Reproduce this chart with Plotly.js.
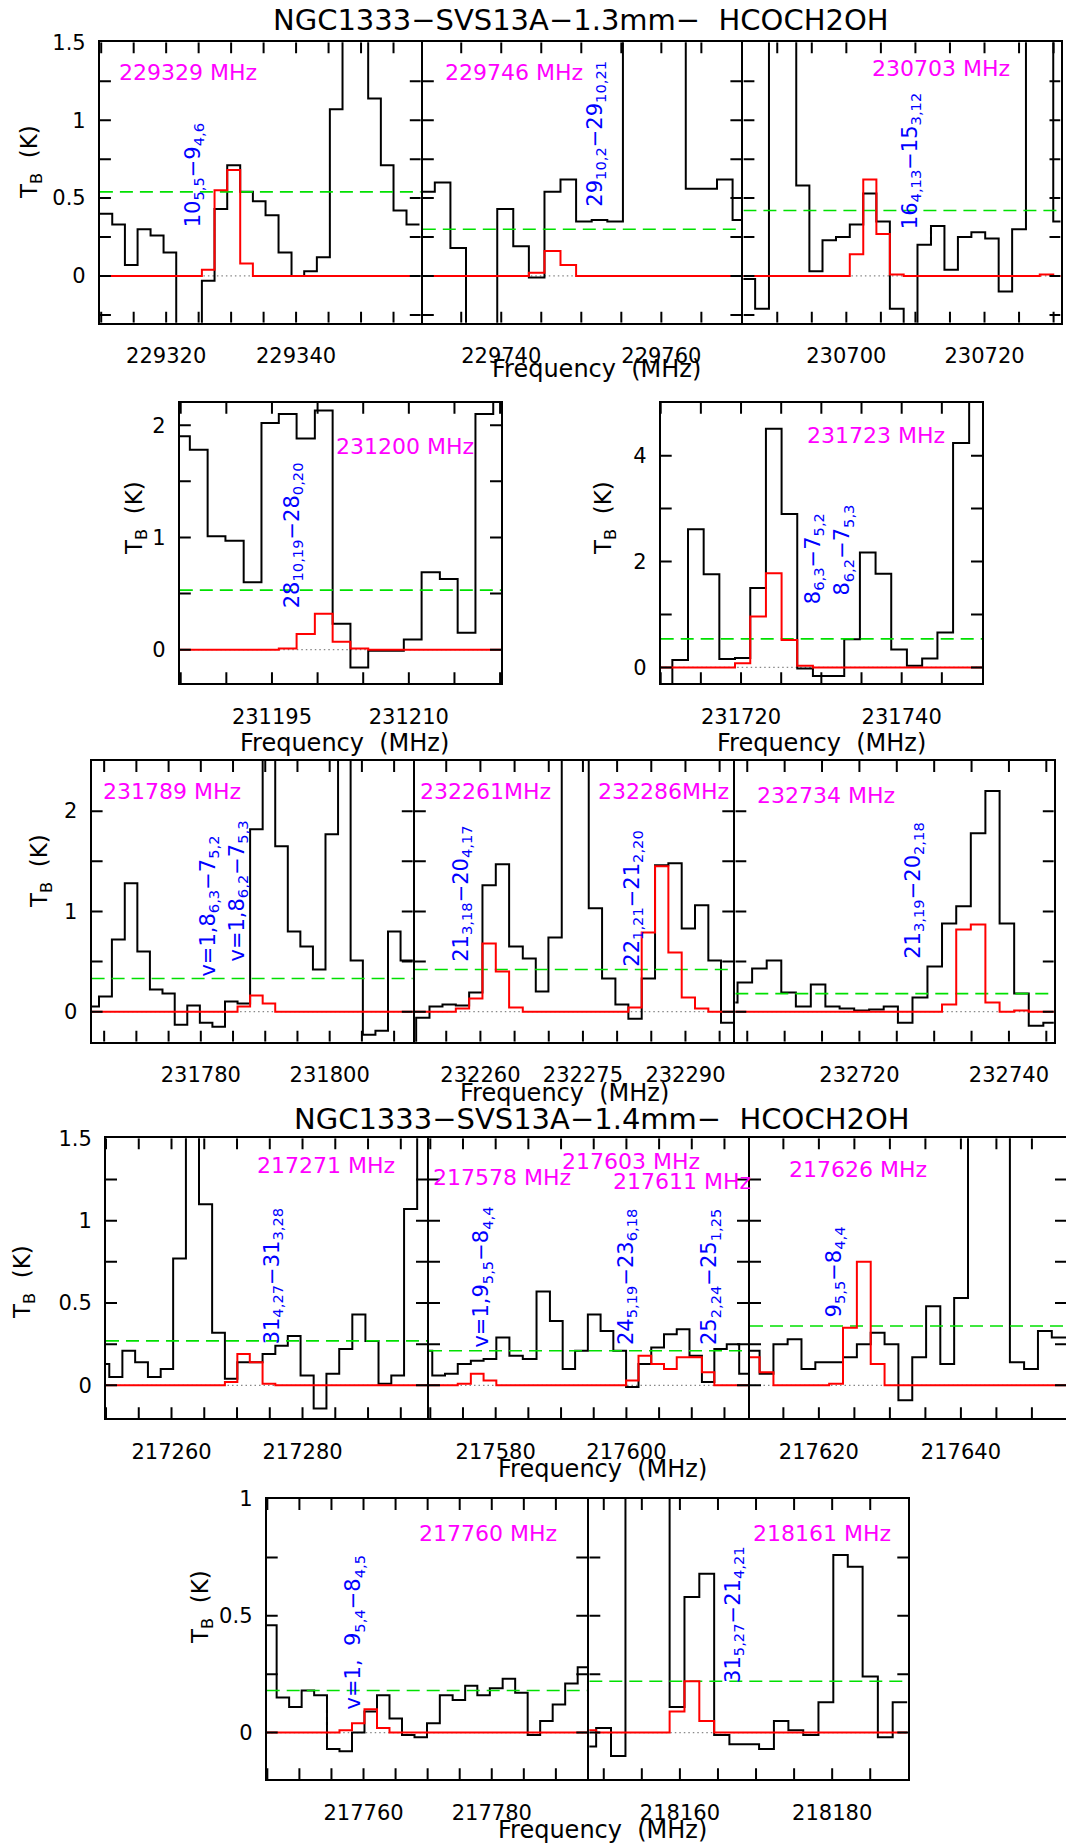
<!DOCTYPE html>
<html><head><meta charset="utf-8">
<script src="https://cdn.plot.ly/plotly-3.0.1.min.js"></script>
<style>html,body{margin:0;padding:0;background:#fff}</style>
</head><body>
<div id="chart" style="width:1066px;height:1845px"></div>
<script>
// ---------------- DATA (channel centre frequency in MHz, brightness temperature in K) ----------------
const A_freq = [229310.7,229312.7,229314.6,229316.6,229318.6,229320.6,229322.5,229324.5,229326.5,229328.4,229330.4,229332.4,229334.3,229336.3,229338.3,229340.3,229342.2,229344.2,229346.2,229348.1,229350.1,229352.1,229354.0,229356.0,229358.0];
const A_tb    = [0.40,0.33,0.07,0.30,0.26,0.15,-0.60,-0.60,-0.03,0.43,0.71,0.54,0.48,0.39,0.15,0.00,0.03,0.12,1.07,1.90,1.90,1.14,0.71,0.42,0.33];
const A_model = [0,0,0,0,0,0,0,0,0.04,0.55,0.68,0.08,0,0,0,0,0,0,0,0,0,0,0,0,0];

const B_freq = [229730.7,229732.7,229734.6,229736.6,229738.5,229740.5,229742.5,229744.4,229746.4,229748.4,229750.3,229752.3,229754.2,229756.2,229758.2,229760.1,229762.1,229764.0,229766.0,229767.9,229769.9];
const B_tb    = [0.54,0.60,0.18,-0.50,-0.50,0.43,0.19,-0.01,0.54,0.62,0.35,0.36,0.35,2.00,2.00,2.00,2.00,0.56,0.56,0.62,0.36];
const B_model = [0,0,0,0,0,0,0,0.02,0.16,0.07,0,0,0,0,0,0,0,0,0,0,0];

const C_freq = [230685.8,230687.8,230689.8,230691.8,230693.7,230695.6,230697.5,230699.5,230701.5,230703.4,230705.3,230707.3,230709.3,230711.3,230713.2,230715.2,230717.1,230719.1,230721.1,230723.0,230725.0,230727.0,230729.0,230730.9];
const C_tb    = [-0.02,-0.21,2.00,2.00,0.58,0.03,0.23,0.25,0.33,0.53,0.35,-0.21,-0.50,0.20,0.32,0.04,0.25,0.28,0.24,-0.10,0.30,2.00,2.00,0.35];
const C_model = [0,0,0,0,0,0,0,0,0.14,0.62,0.27,0.01,0,0,0,0,0,0,0,0,0,0,0.01,0];

const D_freq = [231185.0,231187.0,231188.9,231190.9,231192.9,231194.8,231196.7,231198.7,231200.7,231202.6,231204.6,231206.5,231208.5,231210.4,231212.4,231214.4,231216.3,231218.3,231220.2];
const D_tb    = [1.90,1.78,1.01,0.97,0.60,2.02,2.10,1.88,2.13,0.23,-0.16,-0.01,-0.01,0.09,0.69,0.63,0.15,2.10,2.40];
const D_model = [0,0,0,0,0,0,0.01,0.14,0.32,0.07,0.01,0,0,0,0,0,0,0,0];

const E_freq = [231710.5,231712.4,231714.4,231716.3,231718.3,231720.2,231722.1,231724.1,231726.0,231728.0,231729.9,231731.9,231733.8,231735.8,231737.7,231739.7,231741.6,231743.5,231745.4,231747.4,231749.4];
const E_tb    = [-0.35,0.14,2.61,1.76,0.16,0.18,1.50,4.51,2.90,-0.02,-0.16,-0.16,0.53,2.17,1.77,0.34,0.03,0.17,0.66,4.24,5.50];
const E_model = [0,0,0,0,0,0.08,0.96,1.78,0.52,0.03,0,0,0,0,0,0,0,0,0,0,0];

const F_freq = [231763.2,231765.2,231767.2,231769.2,231771.1,231773.1,231775.0,231776.9,231778.9,231780.8,231782.8,231784.7,231786.7,231788.6,231790.6,231792.5,231794.5,231796.4,231798.4,231800.3,231802.3,231804.2,231806.1,231808.1,231810.0,231812.0];
const F_tb    = [0.05,0.15,0.72,1.28,0.60,0.22,0.18,-0.13,0.06,-0.11,-0.15,0.10,0.08,1.82,2.80,1.65,0.80,0.65,0.42,1.77,2.80,0.51,-0.23,-0.19,0.80,0.51];
const F_model = [0,0,0,0,0,0,0,0,0,0,0,0,0.05,0.16,0.08,0,0,0,0,0,0,0,0,0,0,0];

const G_freq = [232249.6,232251.6,232253.5,232255.4,232257.4,232259.3,232261.3,232263.2,232265.2,232267.2,232269.0,232270.9,232272.9,232274.9,232276.8,232278.8,232280.7,232282.6,232284.6,232286.5,232288.5,232290.4,232292.4,232294.3,232296.1];
const G_tb    = [-0.40,-0.06,0.05,0.07,0.06,0.19,1.26,1.47,0.65,0.53,0.20,0.74,3.00,3.00,1.03,0.33,0.07,-0.07,0.33,1.46,1.48,0.83,1.06,0.51,-0.11];
const G_model = [0,0,0,0,0.03,0.13,0.68,0.40,0.04,0,0,0,0,0,0,0,0,0.04,0.79,1.45,0.59,0.14,0.03,0,0];

const H_freq = [232702.7,232704.7,232706.6,232708.6,232710.5,232712.5,232714.5,232716.4,232718.3,232720.3,232722.3,232724.2,232726.1,232728.1,232730.1,232732.0,232733.9,232735.9,232737.8,232739.7,232741.7,232743.6,232745.6];
const H_tb    = [0.09,0.29,0.43,0.51,0.19,0.05,0.27,0.05,0.03,0.01,0.02,0.05,-0.11,0.14,0.45,0.88,1.05,1.78,2.20,0.88,0.18,-0.14,-0.11];
const H_model = [0,0,0,0,0,0,0,0,0,0,0,0,0,0,0,0.07,0.82,0.87,0.09,0,0.01,0,0];

const I_freq = [217249.5,217251.5,217253.5,217255.4,217257.4,217259.3,217261.2,217263.2,217265.2,217267.2,217269.1,217271.0,217272.9,217274.9,217276.8,217278.7,217280.7,217282.7,217284.6,217286.6,217288.6,217290.6,217292.6,217294.5,217296.5,217298.5];
const I_tb    = [0.13,0.05,0.21,0.14,0.05,0.10,0.77,1.80,1.10,0.32,0.04,0.14,0.14,0.19,0.24,0.30,0.06,-0.14,0.07,0.22,0.43,0.27,0.01,0.06,1.07,1.80];
const I_model = [0,0,0,0,0,0,0,0,0,0,0.02,0.19,0.14,0.01,0,0,0,0,0,0,0,0,0,0,0,0];

const J_freq = [217569.3,217571.3,217573.2,217575.2,217577.2,217579.1,217581.1,217583.1,217585.2,217587.3,217589.3,217591.2,217593.1,217595.1,217597.0,217599.0,217600.9,217602.8,217604.8,217606.7,217608.7,217610.6,217612.5,217614.4,217616.3,217618.2];
const J_tb    = [0.21,0.06,0.07,0.13,0.15,0.16,0.29,0.18,0.16,0.57,0.39,0.10,0.21,0.43,0.33,0.21,-0.01,0.13,0.23,0.31,0.34,0.18,0.02,0.22,0.25,0.07];
const J_model = [0,0,0,0.01,0.07,0.03,0,0,0,0,0,0,0,0,0,0,0.03,0.18,0.13,0.10,0.17,0.17,0.08,0,0,0];

const K_freq = [217610.7,217612.6,217614.6,217616.6,217618.5,217620.5,217622.4,217624.4,217626.3,217628.3,217630.2,217632.2,217634.1,217636.1,217638.1,217640.0,217642.0,217644.0,217645.9,217647.9,217649.9,217651.8,217653.8];
const K_tb    = [0.21,0.07,0.25,0.28,0.10,0.14,0.14,0.17,0.25,0.32,0.25,-0.09,0.17,0.48,0.13,0.53,1.80,1.80,1.80,0.14,0.10,0.33,0.29];
const K_model = [0.17,0.08,0,0,0,0,0.01,0.35,0.75,0.13,0,0,0,0,0,0,0,0,0,0,0,0,0];

const L_freq = [217745.5,217747.4,217749.4,217751.3,217753.3,217755.3,217757.2,217759.2,217761.1,217763.1,217765.0,217767.0,217768.9,217770.9,217772.9,217774.9,217776.8,217778.7,217780.7,217782.7,217784.6,217786.6,217788.5,217790.5,217792.4,217794.4];
const L_tb    = [0.46,0.15,0.11,0.18,0.16,-0.07,-0.08,0.00,0.09,0.16,0.06,-0.01,-0.02,0.04,0.16,0.14,0.20,0.16,0.19,0.23,0.17,-0.01,0.05,0.12,0.21,0.28];
const L_model = [0,0,0,0,0,0,0.01,0.04,0.10,0.02,0,0,0,0,0,0,0,0,0,0,0,0,0,0,0,0];

const M_freq = [218148.0,218150.0,218151.9,218153.8,218155.7,218157.7,218159.6,218161.6,218163.5,218165.5,218167.5,218169.4,218171.4,218173.3,218175.2,218177.2,218179.2,218181.1,218183.0,218185.0,218187.0,218188.9];
const M_tb    = [-0.06,0.02,-0.10,1.20,1.20,1.20,0.11,0.58,0.68,-0.01,-0.05,-0.05,-0.07,0.05,0.01,-0.01,0.13,0.76,0.71,0.24,-0.02,0.13];
const M_model = [0.01,0,0,0,0,0,0.09,0.22,0.05,0,0,0,0,0,0,0,0,0,0,0,0,0];

// 3-sigma levels (green dashed), one per panel A..M
const cutLevels = [0.54,0.30,0.42,0.53,0.54,0.33,0.42,0.18,0.27,0.21,0.36,0.18,0.22];

// labelled x ticks per panel
const xTickLabels = [
  [229320,229340],[229740,229760],[230700,230720],[231195,231210],[231720,231740],
  [231780,231800],[232260,232275,232290],[232720,232740],[217260,217280],[217580,217600],
  [217620,217640],[217760,217780],[218160,218180]
];

// line frequency labels (magenta) and transitions (blue)
const freqLabels = ['229329 MHz','229746 MHz','230703 MHz','231200 MHz','231723 MHz','231789 MHz',
  '232261MHz','232286MHz','232734 MHz','217271 MHz','217578 MHz','217603 MHz','217611 MHz','217626 MHz','217760 MHz','218161 MHz'];
const transLabels = ['10<sub>5,5</sub>−9<sub>4,6</sub>','29<sub>10,2</sub>−29<sub>10,21</sub>','16<sub>4,13</sub>−15<sub>3,12</sub>',
  '28<sub>10,19</sub>−28<sub>0,20</sub>','8<sub>6,3</sub>−7<sub>5,2</sub>','8<sub>6,2</sub>−7<sub>5,3</sub>',
  'v=1,8<sub>6,3</sub>−7<sub>5,2</sub>','v=1,8<sub>6,2</sub>−7<sub>5,3</sub>','21<sub>3,18</sub>−20<sub>4,17</sub>',
  '22<sub>1,21</sub>−21<sub>2,20</sub>','21<sub>3,19</sub>−20<sub>2,18</sub>','31<sub>4,27</sub>−31<sub>3,28</sub>',
  'v=1,9<sub>5,5</sub>−8<sub>4,4</sub>','24<sub>5,19</sub>−23<sub>6,18</sub>','25<sub>2,24</sub>−25<sub>1,25</sub>',
  '9<sub>5,5</sub>−8<sub>4,4</sub>','v=1,\u00A0 9<sub>5,4</sub>−8<sub>4,5</sub>','31<sub>5,27</sub>−21<sub>4,21</sub>'];

// ---------------- LAYOUT CONFIG ----------------
const W = 1066, H = 1845;
const FONT = 'DejaVu Sans, Liberation Sans, sans-serif';
const TICKLEN = 11;
const yTickSets = {
  r1: {major:[0,0.5,1,1.5], minor:[-0.25,0.25,0.75,1.25]},
  d:  {major:[0,1,2],       minor:[0.5,1.5]},
  e:  {major:[0,2,4],       minor:[1,3,5]},
  r3: {major:[0,1,2],       minor:[0.5,1.5,2.5]},
  r4: {major:[0,0.5,1,1.5], minor:[0.25,0.75,1.25]},
  r5: {major:[0,0.5,1],     minor:[0.25,0.75]}
};
const R1=[42.3,322.7], R2=[402.7,683.3], R3=[761,1041.7], R4=[1138.3,1418.3], R5=[1499,1779.3];
const panels = [
  {f:A_freq,t:A_tb,m:A_model, px:[99.9,420.8],  py:R1, xr:[229309.8,229359.2], yr:[-0.3,1.5], yt:'r1', ylab:true},
  {f:B_freq,t:B_tb,m:B_model, px:[422.8,741.4], py:R1, xr:[229730.2,229770],   yr:[-0.3,1.5], yt:'r1', ylab:false},
  {f:C_freq,t:C_tb,m:C_model, px:[743.4,1060.5],py:R1, xr:[230685.1,230731],   yr:[-0.3,1.5], yt:'r1', ylab:false},
  {f:D_freq,t:D_tb,m:D_model, px:[179.8,501],   py:R2, xr:[231184.9,231220.1], yr:[-0.3,2.2], yt:'d',  ylab:true},
  {f:E_freq,t:E_tb,m:E_model, px:[660.7,982],   py:R2, xr:[231710,231750],     yr:[-0.3,5],   yt:'e',  ylab:true},
  {f:F_freq,t:F_tb,m:F_model, px:[91.6,412.8],  py:R3, xr:[231763.05,231812.9],yr:[-0.3,2.5], yt:'r3', ylab:true},
  {f:G_freq,t:G_tb,m:G_model, px:[414.8,733.3], py:R3, xr:[232250.4,232297],   yr:[-0.3,2.5], yt:'r3', ylab:false},
  {f:H_freq,t:H_tb,m:H_model, px:[735.3,1053.8],py:R3, xr:[232703.4,232746],   yr:[-0.3,2.5], yt:'r3', ylab:false},
  {f:I_freq,t:I_tb,m:I_model, px:[106,427],     py:R4, xr:[217250,217299],     yr:[-0.2,1.5], yt:'r4', ylab:true},
  {f:J_freq,t:J_tb,m:J_model, px:[429,748],     py:R4, xr:[217569.8,217618.6], yr:[-0.2,1.5], yt:'r4', ylab:false},
  {f:K_freq,t:K_tb,m:K_model, px:[750,1066],    py:R4, xr:[217610.3,217654.8], yr:[-0.2,1.5], yt:'r4', ylab:false},
  {f:L_freq,t:L_tb,m:L_model, px:[266.7,587.3], py:R5, xr:[217744.9,217794.9], yr:[-0.2,1],   yt:'r5', ylab:true},
  {f:M_freq,t:M_tb,m:M_model, px:[589.3,908.3], py:R5, xr:[218148.1,218190],   yr:[-0.2,1],   yt:'r5', ylab:false}
];
// label placement: [panel index, label index, x (MHz), y (K)]
const freqLabelPos = [[0,0,229312.4,1.305],[1,1,229732.7,1.305],[2,2,230703.4,1.333],[3,3,231201.8,1.807],
  [4,4,231728.0,4.38],[5,5,231764.5,2.20],[6,6,232250.9,2.20],[6,7,232276.9,2.20],[7,8,232706.1,2.16],
  [8,9,217272.7,1.332],[9,10,217570.1,1.26],[9,11,217589.8,1.362],[9,12,217597.6,1.24],[10,13,217615.5,1.31],
  [11,14,217768.4,0.853],[12,15,218169.3,0.853]];
const transLabelPos = [[0,0,229324.3,0.30],[1,1,229751.8,0.43],[2,2,230709.3,0.285],[3,3,231197.3,0.35],
  [4,4,231729.1,1.15],[4,5,231732.7,1.31],[5,6,231781.2,0.33],[5,7,231785.7,0.48],[6,8,232257.2,0.48],
  [6,9,232282.2,0.43],[7,10,232727.2,0.51],[8,11,217275.5,0.237],[9,12,217577.9,0.22],[9,13,217600.1,0.233],
  [9,14,217612.8,0.233],[10,15,217622.2,0.40],[11,16,217758.5,0.09],[12,17,218167.1,0.204]];

// ---------------- BUILD ----------------
function stepPath(f, v){
  const xs=[], ys=[], n=f.length;
  for(let i=0;i<n;i++){
    const l = i>0 ? (f[i-1]+f[i])/2 : f[0]-(f[1]-f[0])/2;
    const r = i<n-1 ? (f[i]+f[i+1])/2 : f[n-1]+(f[n-1]-f[n-2])/2;
    xs.push(l,r); ys.push(v[i],v[i]);
  }
  return {xs, ys};
}
const traces=[], tickTraces=[], annotations=[];
const layout = {width:W, height:H, margin:{l:0,r:0,t:0,b:0}, paper_bgcolor:'#fff', plot_bgcolor:'rgba(0,0,0,0)',
  showlegend:false, font:{family:FONT, color:'#000'}};

panels.forEach((p,i)=>{
  const s = i===0 ? '' : String(i+1);
  const xa='x'+s, ya='y'+s;
  traces.push({x:[p.xr[0],p.xr[1]], y:[0,0], xaxis:xa, yaxis:ya, mode:'lines', hoverinfo:'skip',
    line:{color:'#888', width:1.2, dash:'1.5px,3px'}});
  const b = stepPath(p.f, p.t);
  traces.push({x:b.xs, y:b.ys, xaxis:xa, yaxis:ya, mode:'lines', hoverinfo:'skip', line:{color:'#000', width:2}});
  traces.push({x:[p.xr[0],p.xr[1]], y:[cutLevels[i],cutLevels[i]], xaxis:xa, yaxis:ya, mode:'lines', hoverinfo:'skip',
    line:{color:'#00e000', width:1.6, dash:'13px,7px'}});
  const r = stepPath(p.f, p.m);
  traces.push({x:r.xs, y:r.ys, xaxis:xa, yaxis:ya, mode:'lines', hoverinfo:'skip', line:{color:'#ff0000', width:2}});

  const common = {showline:true, linecolor:'#000', linewidth:2, mirror:true, ticks:'', showgrid:false,
    zeroline:false, fixedrange:true, tickmode:'array', tickfont:{family:FONT, size:21, color:'#000'}};
  layout['xaxis'+s] = Object.assign({}, common, {domain:[p.px[0]/W, p.px[1]/W], range:p.xr, anchor:ya,
    tickvals:xTickLabels[i], ticktext:xTickLabels[i].map(String), ticklabelstandoff:13});
  const yt = yTickSets[p.yt];
  layout['yaxis'+s] = Object.assign({}, common, {domain:[1-p.py[1]/H, 1-p.py[0]/H], range:p.yr, anchor:xa,
    tickvals:yt.major, ticktext:yt.major.map(String), showticklabels:p.ylab, ticklabelstandoff:8});

  // inward tick marks on all four sides, drawn as a line trace in data units
  const ly = TICKLEN*(p.yr[1]-p.yr[0])/(p.py[1]-p.py[0]);
  const lx = TICKLEN*(p.xr[1]-p.xr[0])/(p.px[1]-p.px[0]);
  const tx=[], ty=[];
  for(let v=Math.ceil(p.xr[0]/5)*5; v<p.xr[1]; v+=5){
    tx.push(v,v,null, v,v,null); ty.push(p.yr[0],p.yr[0]+ly,null, p.yr[1],p.yr[1]-ly,null);
  }
  yt.major.concat(yt.minor).forEach(v=>{
    if(v<=p.yr[0] || v>=p.yr[1]) return;
    tx.push(p.xr[0],p.xr[0]+lx,null, p.xr[1],p.xr[1]-lx,null); ty.push(v,v,null, v,v,null);
  });
  tickTraces.push({x:tx, y:ty, xaxis:xa, yaxis:ya, mode:'lines', hoverinfo:'skip', connectgaps:false,
    line:{color:'#000', width:2}});
});

freqLabelPos.forEach(([pi,li,x,y])=>{
  const s = pi===0?'':String(pi+1);
  annotations.push({xref:'x'+s, yref:'y'+s, x, y, text:freqLabels[li], showarrow:false,
    xanchor:'left', yanchor:'middle', font:{family:FONT, size:22, color:'#ff00ff'}});
});
transLabelPos.forEach(([pi,li,x,y])=>{
  const s = pi===0?'':String(pi+1);
  annotations.push({xref:'x'+s, yref:'y'+s, x, y, text:transLabels[li], showarrow:false, textangle:-90,
    xanchor:'center', yanchor:'bottom', font:{family:FONT, size:21, color:'#0000ff'}});
});

const txt = (t,xp,yp,size,angle)=>annotations.push({xref:'paper', yref:'paper', x:xp/W, y:1-yp/H, text:t,
  showarrow:false, xanchor:'center', yanchor:'middle', textangle:angle||0, font:{family:FONT, size:size, color:'#000'}});
txt('NGC1333−SVS13A−1.3mm−\u00A0 HCOCH2OH', 581, 20, 29);
txt('NGC1333−SVS13A−1.4mm−\u00A0 HCOCH2OH', 602, 1119, 29);
const FQ = 'Frequency\u00A0 (MHz)';
txt(FQ, 596, 369, 24); txt(FQ, 344, 743, 24); txt(FQ, 821, 743, 24);
txt(FQ, 564, 1093, 24); txt(FQ, 602, 1469, 24); txt(FQ, 602, 1830, 24);
const TB = 'T<sub>B</sub>\u00A0 (K)';
txt(TB, 31, 162, 23, -90); txt(TB, 136, 518, 23, -90); txt(TB, 605, 518, 23, -90);
txt(TB, 41, 871, 23, -90); txt(TB, 24, 1282, 23, -90); txt(TB, 202, 1607, 23, -90);

layout.annotations = annotations;
Plotly.newPlot('chart', traces.concat(tickTraces), layout, {staticPlot:true, displayModeBar:false});
</script>
</body></html>
